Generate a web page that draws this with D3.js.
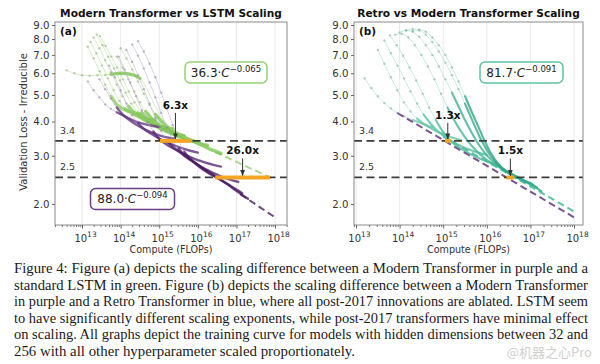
<!DOCTYPE html>
<html>
<head>
<meta charset="utf-8">
<script src="https://cdn.jsdelivr.net/npm/d3@7/dist/d3.min.js"></script>
<style>html,body{margin:0;padding:0;background:#fff;} svg{display:block;}</style>
</head>
<body>
<svg id="chart" width="600" height="364"></svg>
<script>
// ---------------- DATA ----------------
const yTickValues = [2.0, 3.0, 4.0, 5.0, 6.0, 7.0, 8.0, 9.0];
const xTickExponents = [13, 14, 15, 16, 17, 18];
const thresholdLosses = [3.4, 2.5];
const panelTitles = ["Modern Transformer vs LSTM Scaling", "Retro vs Modern Transformer Scaling"];
const panelTags = ["(a)", "(b)"];
const xAxisTitle = "Compute (FLOPs)";
const yAxisTitle = "Validation Loss - Irreducible";

// power-law fits: loss = coef * C^exp
const fitModern = { coef: 88.0, exp: -0.094 };
const fitLSTM = { coef: 36.3, exp: -0.065 };
const fitRetro = { coef: 81.7, exp: -0.091 };
// visible extents of the dashed fit lines (log10 FLOPs)
const fitExtentModernA = [17.1, 18.0];
const fitExtentLSTMA = [16.45, 17.9];
const fitExtentModernB = [13.95, 18.0];
const fitExtentRetroB = [15.0, 18.0];

// training curves: [log10 FLOPs, loss]
const lstmCurves = [
  [[13.15,7.5],[13.3,6.8],[13.45,6.1],[13.6,5.45],[13.75,4.95],[13.9,4.62],[14.05,4.45],[14.2,4.36],[14.35,4.3],[14.5,4.26]],
  [[13.22,7.8],[13.37,7.1],[13.52,6.4],[13.67,5.75],[13.82,5.2],[13.97,4.75],[14.12,4.45],[14.3,4.28],[14.5,4.16],[14.7,4.08],[14.9,4.03]],
  [[13.3,8.1],[13.45,7.4],[13.6,6.7],[13.75,6.05],[13.9,5.45],[14.05,4.95],[14.2,4.55],[14.4,4.25],[14.6,4.06],[14.8,3.94],[15.0,3.86],[15.2,3.8],[15.35,3.77]],
  [[13.38,8.3],[13.53,7.6],[13.68,6.9],[13.83,6.25],[13.98,5.65],[14.13,5.1],[14.28,4.65],[14.45,4.3],[14.65,4.05],[14.85,3.9],[15.05,3.78],[15.25,3.68],[15.45,3.6],[15.65,3.55]],
  [[13.46,8.2],[13.61,7.55],[13.76,6.9],[13.91,6.3],[14.06,5.7],[14.21,5.15],[14.36,4.7],[14.55,4.3],[14.75,4.02],[14.95,3.83],[15.15,3.7],[15.35,3.6],[15.55,3.5],[15.75,3.43],[15.95,3.38]],
  [[13.9,6.9],[14.05,6.3],[14.2,5.7],[14.35,5.15],[14.5,4.7],[14.65,4.35],[14.85,4.05],[15.05,3.85],[15.25,3.7],[15.45,3.58],[15.65,3.48],[15.85,3.4],[16.05,3.33],[16.25,3.27]],
  [[14.0,7.4],[14.15,6.8],[14.3,6.2],[14.45,5.6],[14.6,5.05],[14.75,4.6],[14.9,4.25],[15.1,3.95],[15.3,3.74],[15.5,3.6],[15.7,3.48],[15.9,3.38],[16.1,3.28],[16.3,3.18],[16.5,3.1],[16.6,3.06]],
  [[12.6,6.15],[12.8,6.0],[13.0,5.9],[13.2,5.88],[13.4,5.9],[13.6,5.92],[13.75,5.95],[13.9,5.98],[14.05,6.0],[14.2,5.97],[14.35,5.9],[14.5,5.75],[14.65,5.35],[14.8,4.85],[14.95,4.4],[15.1,4.05],[15.3,3.78],[15.5,3.6],[15.7,3.48],[15.9,3.38],[16.1,3.3],[16.3,3.2],[16.5,3.1]]
];
const lstmDense = [[13.75,14.5],[14.0,14.9],[14.2,15.35],[14.4,15.65],[14.5,15.95],[14.6,16.25],[14.8,16.6],[13.7,14.5]];

const modernCurvesA = [
  [[13.15,5.6],[13.3,5.2],[13.45,4.9],[13.6,4.62],[13.75,4.45],[13.9,4.32],[14.05,4.22],[14.2,4.12],[14.4,4.0],[14.6,3.92],[14.8,3.86],[15.0,3.82]],
  [[13.45,5.7],[13.6,5.25],[13.75,4.85],[13.9,4.5],[14.05,4.25],[14.2,4.08],[14.4,3.9],[14.6,3.76],[14.8,3.65],[15.0,3.56],[15.2,3.5],[15.4,3.46]],
  [[13.7,6.4],[13.85,5.8],[14.0,5.2],[14.15,4.65],[14.3,4.22],[14.45,3.95],[14.6,3.76],[14.8,3.6],[15.0,3.47],[15.2,3.36],[15.4,3.27],[15.6,3.19],[15.8,3.13],[16.0,3.08]],
  [[13.95,6.9],[14.1,6.2],[14.25,5.55],[14.4,4.95],[14.55,4.4],[14.7,3.98],[14.85,3.68],[15.0,3.46],[15.2,3.29],[15.4,3.17],[15.6,3.06],[15.8,2.97],[16.0,2.89],[16.2,2.83],[16.4,2.78],[16.6,2.74]],
  [[14.15,7.3],[14.3,6.6],[14.45,5.9],[14.6,5.25],[14.75,4.65],[14.9,4.12],[15.05,3.7],[15.2,3.4],[15.35,3.23],[15.5,3.12],[15.7,2.96],[15.9,2.84],[16.1,2.73],[16.3,2.64],[16.5,2.56],[16.7,2.49],[16.9,2.44],[17.05,2.41]],
  [[14.3,7.65],[14.45,6.95],[14.6,6.25],[14.75,5.55],[14.9,4.9],[15.05,4.3],[15.2,3.8],[15.35,3.42],[15.5,3.18],[15.65,3.02],[15.8,2.92],[16.0,2.78],[16.2,2.66],[16.4,2.55],[16.6,2.45],[16.8,2.35],[17.0,2.26],[17.15,2.19]],
  [[14.45,7.85],[14.6,7.2],[14.75,6.5],[14.9,5.8],[15.05,5.1],[15.2,4.45],[15.35,3.88],[15.5,3.42],[15.65,3.1],[15.8,2.92],[15.95,2.8],[16.15,2.66],[16.35,2.56],[16.55,2.47],[16.75,2.37],[16.95,2.26],[17.15,2.16],[17.3,2.09]]
];
const modernDenseA = [[13.85,15.0],[13.9,15.4],[14.45,16.0],[14.85,16.6],[15.2,17.05],[15.5,17.15],[15.65,17.3]];

const retroCurves = [
  [[13.2,5.75],[13.35,5.3],[13.5,4.95],[13.65,4.67],[13.8,4.46],[13.95,4.3],[14.1,4.18],[14.3,4.05],[14.5,3.94],[14.75,3.8]],
  [[13.5,7.3],[13.65,6.5],[13.8,5.8],[13.95,5.2],[14.1,4.7],[14.25,4.35],[14.4,4.1],[14.6,3.88],[14.8,3.72],[15.0,3.6],[15.2,3.5],[15.4,3.43]],
  [[13.65,7.9],[13.8,7.1],[13.95,6.4],[14.1,5.75],[14.25,5.15],[14.4,4.65],[14.55,4.25],[14.7,3.95],[14.85,3.72],[15.0,3.55],[15.2,3.38],[15.4,3.26],[15.6,3.16],[15.8,3.08],[16.0,3.02]],
  [[13.78,8.25],[13.93,7.6],[14.08,6.95],[14.23,6.3],[14.38,5.65],[14.53,5.05],[14.68,4.5],[14.83,4.05],[14.98,3.7],[15.13,3.45],[15.3,3.27],[15.5,3.12],[15.7,3.0],[15.9,2.9],[16.1,2.82],[16.3,2.76]],
  [[13.9,8.3],[14.05,8.35],[14.2,8.1],[14.35,7.6],[14.5,7.0],[14.65,6.35],[14.8,5.7],[14.95,5.05],[15.1,4.5],[15.25,4.05],[15.4,3.7],[15.55,3.42],[15.7,3.2],[15.85,3.03],[16.0,2.9],[16.2,2.77],[16.4,2.65],[16.6,2.55],[16.8,2.47]],
  [[14.0,8.45],[14.15,8.6],[14.3,8.5],[14.45,8.15],[14.6,7.6],[14.75,7.0],[14.9,6.35],[15.05,5.7],[15.2,5.1],[15.35,4.55],[15.5,4.05],[15.65,3.65],[15.8,3.32],[15.95,3.08],[16.1,2.9],[16.3,2.74],[16.5,2.6],[16.7,2.5],[16.9,2.42],[17.05,2.36]],
  [[14.15,8.6],[14.3,8.7],[14.45,8.6],[14.6,8.3],[14.75,7.8],[14.9,7.2],[15.05,6.55],[15.2,5.9],[15.35,5.25],[15.5,4.65],[15.65,4.1],[15.8,3.62],[15.95,3.25],[16.1,2.98],[16.25,2.8],[16.4,2.67],[16.6,2.56],[16.8,2.46],[17.0,2.38],[17.15,2.3]],
  [[14.3,8.55],[14.45,8.65],[14.6,8.5],[14.75,8.1],[14.9,7.6],[15.05,7.0],[15.2,6.3],[15.35,5.6],[15.5,4.95],[15.65,4.35],[15.8,3.85],[15.95,3.4],[16.1,3.05],[16.25,2.82],[16.4,2.66],[16.55,2.56],[16.75,2.47],[16.95,2.38],[17.1,2.31],[17.25,2.23]]
];
const retroDense = [[14.2,14.75],[14.3,15.4],[14.5,16.0],[14.7,16.3],[15.0,16.8],[15.2,17.05],[15.4,17.15],[15.5,17.25]];

const gapsA = [
  { loss: 3.4, from: 15.02, to: 15.82, label: "6.3x" },
  { loss: 2.5, from: 16.45, to: 17.87, label: "26.0x" }
];
const gapsB = [
  { loss: 3.4, from: 15.04, to: 15.17, label: "1.3x" },
  { loss: 2.5, from: 16.45, to: 16.63, label: "1.5x" }
];

const captionLines = [
  "Figure 4: Figure (a) depicts the scaling difference between a Modern Transformer in purple and a",
  "standard LSTM in green. Figure (b) depicts the scaling difference between a Modern Transformer",
  "in purple and a Retro Transformer in blue, where all post-2017 innovations are ablated. LSTM seem",
  "to have significantly different scaling exponents, while post-2017 transformers have minimal effect",
  "on scaling. All graphs depict the training curve for models with hidden dimensions between 32 and",
  "256 with all other hyperparameter scaled proportionately."
];
const watermark = "@机器之心Pro";

// ---------------- RENDER ----------------
const svg = d3.select("#chart");
svg.append("rect").attr("width", 600).attr("height", 364).attr("fill", "#fff");
const FONT = "DejaVu Sans";
const defs = svg.append("defs");
defs.append("marker").attr("id", "arrow").attr("viewBox", "0 0 10 10").attr("refX", 9).attr("refY", 5)
  .attr("markerWidth", 6).attr("markerHeight", 6).attr("orient", "auto")
  .append("path").attr("d", "M0,1 L10,5 L0,9 z").attr("fill", "#333");

const TOP = 22, BOTTOM = 225;
const yScale = d3.scaleLog().domain([1.677, 9.23]).range([BOTTOM, TOP]);

function fitValue(f, c) { return f.coef * Math.pow(10, f.exp * c); }

function drawPanel(cfg) {
  const g = svg.append("g");
  const x = d3.scaleLog().domain([Math.pow(10, cfg.xlo), Math.pow(10, cfg.xhi)]).range([cfg.left, cfg.right]);
  const X = c => x(Math.pow(10, c));
  const y = yScale;

  // grid
  g.selectAll("line.grid").data(xTickExponents).join("line")
    .attr("x1", d => X(d)).attr("x2", d => X(d)).attr("y1", TOP).attr("y2", BOTTOM)
    .attr("stroke", "#e4e4e4").attr("stroke-width", 0.8);

  const clipId = "clip" + cfg.idx;
  defs.append("clipPath").attr("id", clipId).append("rect")
    .attr("x", cfg.left).attr("y", TOP).attr("width", cfg.right - cfg.left).attr("height", BOTTOM - TOP);
  const plot = g.append("g").attr("clip-path", `url(#${clipId})`);
  const line = d3.line().x(d => X(d[0])).y(d => y(d[1])).curve(d3.curveCatmullRom.alpha(0.5));

  function drawFit(f, ext, color, width) {
    const pts = d3.range(0, 21).map(i => {
      const c = ext[0] + (ext[1] - ext[0]) * i / 20;
      return [c, fitValue(f, c)];
    });
    plot.append("path").attr("d", d3.line().x(d => X(d[0])).y(d => y(d[1]))(pts))
      .attr("fill", "none").attr("stroke", color).attr("stroke-width", width)
      .attr("stroke-dasharray", "7,4");
  }

  cfg.fitsBelow.forEach(fd => drawFit(fd.fit, fd.ext, fd.color, fd.width));

  cfg.series.forEach(s => {
    const n = s.curves.length;
    s.curves.forEach((pts, i) => {
      const t = n > 1 ? i / (n - 1) : 0;
      const [a, b] = s.dense[i];
      plot.append("path").attr("d", line(pts)).attr("fill", "none")
        .attr("stroke", s.sparse).attr("stroke-width", 1).attr("opacity", 0.55);
      const sparsePts = pts.filter(p => p[0] < a - 1e-9);
      plot.append("g").selectAll("circle").data(sparsePts).join("circle")
        .attr("cx", d => X(d[0])).attr("cy", d => y(d[1])).attr("r", 1.2)
        .attr("fill", d3.color(s.sparse).darker(0.7)).attr("opacity", 0.55);
      const dp = pts.filter(p => p[0] >= a - 1e-9 && p[0] <= b + 1e-9);
      if (dp.length > 1) {
        plot.append("path").attr("d", line(dp)).attr("fill", "none")
          .attr("stroke", d3.interpolateRgb(s.d0, s.d1)(t)).attr("stroke-width", s.dw)
          .attr("stroke-linecap", "round").attr("opacity", 0.72);
      }
    });
  });

  cfg.fitsAbove.forEach(fd => drawFit(fd.fit, fd.ext, fd.color, fd.width));

  // threshold lines
  thresholdLosses.forEach(l => {
    g.append("line").attr("x1", cfg.left).attr("x2", cfg.right).attr("y1", y(l)).attr("y2", y(l))
      .attr("stroke", "#3c3c3c").attr("stroke-width", 1.8).attr("stroke-dasharray", "8,4.5");
    g.append("text").attr("x", cfg.left + 5).attr("y", y(l) - 7).attr("font-family", FONT)
      .attr("font-size", 9.5).attr("fill", "#333").text(l.toFixed(1));
  });

  // gaps
  cfg.gaps.forEach((gp, k) => {
    const yy = y(gp.loss);
    g.append("line").attr("x1", X(gp.from)).attr("x2", X(gp.to)).attr("y1", yy).attr("y2", yy)
      .attr("stroke", "#f5a524").attr("stroke-width", 4);
    const mx = (X(gp.from) + X(gp.to)) / 2;
    const off = cfg.labelOffsets[k];
    g.append("line").attr("x1", mx).attr("x2", mx).attr("y1", yy - off + 4).attr("y2", yy - 2)
      .attr("stroke", "#333").attr("stroke-width", 1).attr("marker-end", "url(#arrow)");
    g.append("text").attr("x", mx).attr("y", yy - off).attr("text-anchor", "middle")
      .attr("font-family", FONT).attr("font-weight", "bold").attr("font-size", 10.5)
      .attr("fill", "#111").text(gp.label);
  });

  // fit boxes
  cfg.boxes.forEach(bx => {
    const t = g.append("text").attr("x", bx.cx).attr("y", bx.cy + 4).attr("text-anchor", "middle")
      .attr("font-family", FONT).attr("font-size", 12).attr("fill", "#222");
    t.append("tspan").text(bx.fit.coef.toFixed(1) + "·");
    t.append("tspan").attr("font-style", "italic").text("C");
    t.append("tspan").attr("dy", -5).attr("font-size", 8.5).text("−" + Math.abs(bx.fit.exp).toFixed(3));
    g.insert("rect", () => t.node()).attr("x", bx.cx - bx.w / 2).attr("y", bx.cy - bx.h / 2)
      .attr("width", bx.w).attr("height", bx.h).attr("rx", 5)
      .attr("fill", "#fff").attr("stroke", bx.stroke).attr("stroke-width", 1.5);
  });

  // frame
  g.append("rect").attr("x", cfg.left).attr("y", TOP).attr("width", cfg.right - cfg.left)
    .attr("height", BOTTOM - TOP).attr("fill", "none").attr("stroke", "#8a8a8a").attr("stroke-width", 1);

  // axes
  const yAxis = g.append("g").attr("transform", `translate(${cfg.left},0)`)
    .call(d3.axisLeft(y).tickValues(yTickValues).tickFormat(d3.format(".1f")).tickSize(3).tickPadding(2.5));
  yAxis.select(".domain").remove();
  yAxis.selectAll("line").attr("stroke", "#666");
  yAxis.selectAll("text").attr("font-family", FONT).attr("font-size", 10.2).attr("fill", "#333");

  const majors = xTickExponents.map(e => Math.pow(10, e));
  const minors = [];
  for (let e = 12; e <= 18; e++) for (let m = 2; m <= 9; m++) {
    const v = m * Math.pow(10, e);
    if (v > x.domain()[0] && v < x.domain()[1]) minors.push(v);
  }
  const xMinor = g.append("g").attr("transform", `translate(0,${BOTTOM})`)
    .call(d3.axisBottom(x).tickValues(minors).tickFormat("").tickSize(2));
  xMinor.select(".domain").remove();
  xMinor.selectAll("line").attr("stroke", "#777");
  const xAxis = g.append("g").attr("transform", `translate(0,${BOTTOM})`)
    .call(d3.axisBottom(x).tickValues(majors).tickFormat("").tickSize(3.5));
  xAxis.select(".domain").remove();
  xAxis.selectAll("line").attr("stroke", "#666");
  xAxis.selectAll(".tick").each(function(d) {
    const t = d3.select(this).select("text");
    t.attr("font-family", FONT).attr("font-size", 10).attr("fill", "#333").attr("y", 17).attr("dy", 0)
      .attr("dx", 3);
    t.append("tspan").text("10");
    t.append("tspan").attr("dy", -5).attr("font-size", 7.5).text(Math.round(Math.log10(d)));
  });

  // titles
  const cx = (cfg.left + cfg.right) / 2;
  g.append("text").attr("x", cx).attr("y", 17).attr("text-anchor", "middle")
    .attr("font-family", FONT).attr("font-weight", "bold").attr("font-size", 10.6).attr("fill", "#111")
    .text(cfg.title);
  g.append("text").attr("x", cfg.left + 5).attr("y", 35).attr("font-family", FONT)
    .attr("font-weight", "bold").attr("font-size", 10.5).attr("fill", "#111").text(cfg.tag);
  g.append("text").attr("x", cx).attr("y", 253).attr("text-anchor", "middle")
    .attr("font-family", FONT).attr("font-size", 9.6).attr("fill", "#333").text(xAxisTitle);
}

drawPanel({
  idx: 0, left: 55, right: 287, xlo: 12.30, xhi: 18.31,
  title: panelTitles[0], tag: panelTags[0],
  fitsBelow: [
    { fit: fitLSTM, ext: fitExtentLSTMA, color: "#a9d98c", width: 2 },
    { fit: fitModern, ext: fitExtentModernA, color: "#6e4a80", width: 2 }
  ],
  fitsAbove: [],
  series: [
    { curves: lstmCurves, dense: lstmDense, sparse: "#b5dd98", d0: "#8acb5c", d1: "#72be40", dw: 3.4 },
    { curves: modernCurvesA, dense: modernDenseA, sparse: "#bba9d1", d0: "#5e2f80", d1: "#3d0a55", dw: 2.4 }
  ],
  gaps: gapsA, labelOffsets: [32, 23],
  boxes: [
    { fit: fitLSTM, cx: 226, cy: 72.5, w: 82, h: 21, stroke: "#98d174" },
    { fit: fitModern, cx: 132.5, cy: 199, w: 84, h: 21, stroke: "#6b3f84" }
  ]
});

drawPanel({
  idx: 1, left: 354, right: 583, xlo: 12.954, xhi: 18.206,
  title: panelTitles[1], tag: panelTags[1],
  fitsBelow: [
    { fit: fitRetro, ext: fitExtentRetroB, color: "#5cc4a5", width: 2 }
  ],
  fitsAbove: [
    { fit: fitModern, ext: fitExtentModernB, color: "#7b5590", width: 2 }
  ],
  series: [
    { curves: retroCurves, dense: retroDense, sparse: "#9adcc6", d0: "#62caa8", d1: "#24a07f", dw: 2.2 }
  ],
  gaps: gapsB, labelOffsets: [22, 23],
  boxes: [
    { fit: fitRetro, cx: 521.5, cy: 72.5, w: 83, h: 21, stroke: "#5fc2a3" }
  ]
});

// y axis title
svg.append("text").attr("transform", "translate(27,122) rotate(-90)").attr("text-anchor", "middle")
  .attr("font-family", FONT).attr("font-size", 10).attr("fill", "#333").text(yAxisTitle);

// caption
const cap = svg.append("g").attr("font-family", "Liberation Serif").attr("font-size", 14.4).attr("fill", "#1a1a1a");
captionLines.forEach((ln, i) => {
  const t = cap.append("text").attr("x", 14).attr("y", 273 + i * 16.6).text(ln)
    .attr("lengthAdjust", "spacingAndGlyphs");
  t.attr("textLength", i < captionLines.length - 1 ? 574 : 341);
});
svg.append("text").attr("x", 592).attr("y", 357).attr("text-anchor", "end")
  .attr("font-family", "Noto Sans CJK SC").attr("font-size", 13).attr("fill", "#c4c4c4")
  .attr("opacity", 0.8).text(watermark);
</script>
</body>
</html>
